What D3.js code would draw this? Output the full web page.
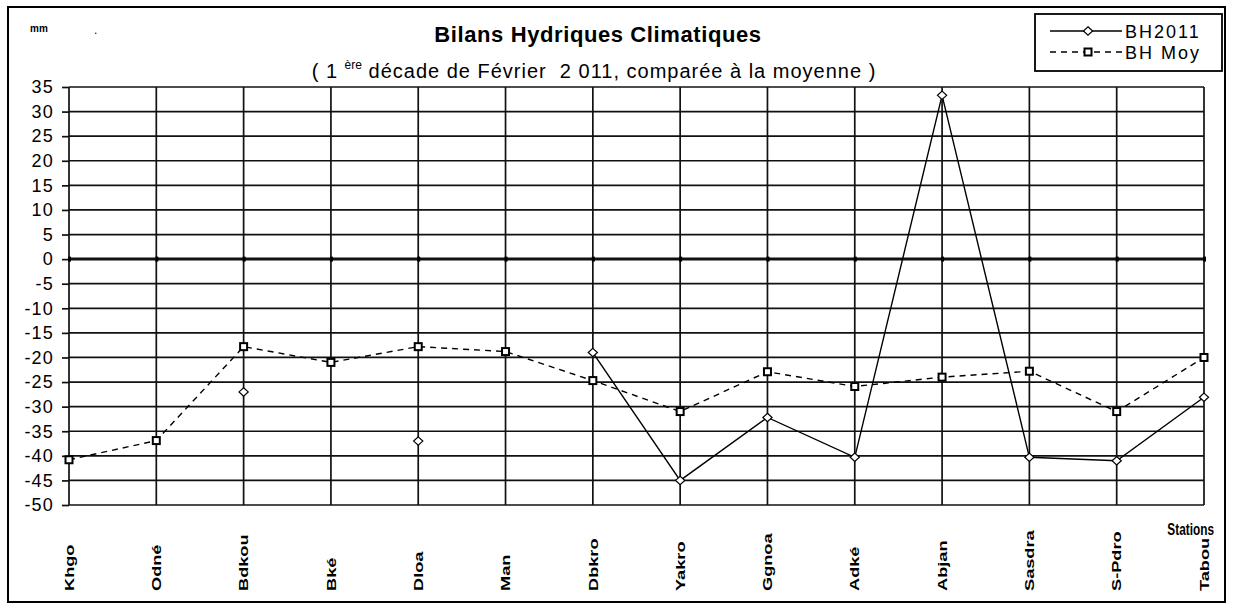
<!DOCTYPE html>
<html>
<head>
<meta charset="utf-8">
<script src="https://cdn.jsdelivr.net/npm/d3@7"></script>
<style>
  body { margin: 0; background: #fff; }
  svg { display: block; font-family: "Liberation Sans", Arial, sans-serif; }
</style>
</head>
<body>
<script>
// ---- data ----
const categories = ["Khgo","Odné","Bdkou","Bké","Dloa","Man","Dbkro","Yakro","Ggnoa","Adké","Abjan","Sasdra","S-Pdro","Tabou"];
const bh2011 = [null, null, -27, null, -37, null, -19, -45, -32.2, -40.3, 33.3, -40.3, -41, -28.1];
const bhMoy  = [-40.8, -36.9, -17.8, -21, -17.8, -18.8, -24.7, -31, -22.9, -25.9, -24, -22.8, -31, -20];
const yTicks = [35, 30, 25, 20, 15, 10, 5, 0, -5, -10, -15, -20, -25, -30, -35, -40, -45, -50];
const seriesNames = ["BH2011", "BH Moy"];

const W = 1233, H = 605;
const svg = d3.select("body").append("svg").attr("width", W).attr("height", H);

// outer frame
svg.append("rect").attr("x", 8).attr("y", 7).attr("width", 1217).attr("height", 595)
  .attr("fill", "none").attr("stroke", "#000").attr("stroke-width", 2);

const x = d3.scalePoint().domain(categories).range([69, 1204]);
const y = d3.scaleLinear().domain([-50, 35]).range([505, 87]);

// grid
const grid = svg.append("g");
grid.selectAll("line.h").data(yTicks).join("line").attr("class", "h")
  .attr("x1", x(categories[0])).attr("x2", x(categories[categories.length - 1]))
  .attr("y1", d => y(d)).attr("y2", d => y(d))
  .attr("stroke", "#111").attr("stroke-width", d => d === 0 ? 3 : 1.7);
grid.selectAll("line.v").data(categories).join("line").attr("class", "v")
  .attr("x1", d => x(d)).attr("x2", d => x(d))
  .attr("y1", y(35)).attr("y2", y(-50))
  .attr("stroke", "#111").attr("stroke-width", 1.7);

// y axis
const yAxis = svg.append("g").attr("transform", `translate(${x(categories[0])},0)`)
  .call(d3.axisLeft(y).tickValues(yTicks).tickSize(7).tickPadding(8).tickFormat(d => String(d)));
yAxis.select(".domain").remove();
yAxis.selectAll(".tick line").attr("stroke", "#111").attr("stroke-width", 1.7);
yAxis.selectAll(".tick text").attr("font-size", 18).attr("letter-spacing", "1.2px")
  .attr("fill", "#000").attr("font-family", "Liberation Sans, Arial, sans-serif");

// category tick marks on zero line
const xAxis = svg.append("g").attr("transform", `translate(0,${y(0) - 2.5})`)
  .call(d3.axisBottom(x).tickSize(5).tickFormat(""));
xAxis.select(".domain").remove();
xAxis.selectAll(".tick line").attr("stroke", "#000").attr("stroke-width", 3);

// category labels (rotated)
svg.append("g").selectAll("text").data(categories).join("text")
  .attr("transform", d => `translate(${x(d)},591) rotate(-90) scale(1.4,1)`)
  .attr("dy", "0.36em")
  .attr("text-anchor", "start")
  .attr("font-size", 13).attr("font-weight", "bold")
  .text(d => d);

// axis title "Stations"
svg.append("text").attr("transform", "translate(1214,535) scale(0.74,1)")
  .attr("text-anchor", "end").attr("font-size", 16).attr("font-weight", "bold")
  .text("Stations");

// "mm" unit label
svg.append("text").attr("x", 30).attr("y", 32).attr("font-size", 10).attr("font-weight", "bold").text("mm");
svg.append("text").attr("x", 94).attr("y", 34).attr("font-size", 12).text(".");

// titles
svg.append("text").attr("x", 598).attr("y", 41.5).attr("text-anchor", "middle")
  .attr("font-size", 22).attr("font-weight", "bold").attr("letter-spacing", "0.6px")
  .text("Bilans Hydriques Climatiques");
const sub = svg.append("text").attr("x", 594).attr("y", 78).attr("text-anchor", "middle")
  .attr("font-size", 20).attr("letter-spacing", "1px").style("white-space", "pre");
sub.append("tspan").text("( 1 ");
sub.append("tspan").attr("dy", -9).attr("font-size", 12).attr("letter-spacing", "0px").text("ère");
sub.append("tspan").attr("dy", 9).text(" décade de Février  2 011, comparée à la moyenne )");

// lines
const lineGen = d3.line().defined(d => d.v !== null).x(d => x(d.c)).y(d => y(d.v));
const moyData = categories.map((c, i) => ({ c, v: bhMoy[i] }));
const bhData = categories.map((c, i) => ({ c, v: bh2011[i] }));

svg.append("path").datum(moyData).attr("d", lineGen)
  .attr("fill", "none").attr("stroke", "#000").attr("stroke-width", 1.4).attr("stroke-dasharray", "6,5");
svg.append("path").datum(bhData).attr("d", lineGen)
  .attr("fill", "none").attr("stroke", "#000").attr("stroke-width", 1.4);

const diamond = "M0,-4.2L4.6,0L0,4.2L-4.6,0Z";
svg.append("g").selectAll("rect").data(moyData).join("rect")
  .attr("x", d => x(d.c) - 3.5).attr("y", d => y(d.v) - 3.5)
  .attr("width", 7).attr("height", 7)
  .attr("fill", "#fff").attr("stroke", "#000").attr("stroke-width", 2);
svg.append("g").selectAll("path").data(bhData.filter(d => d.v !== null)).join("path")
  .attr("transform", d => `translate(${x(d.c)},${y(d.v)})`)
  .attr("d", diamond).attr("fill", "#fff").attr("stroke", "#000").attr("stroke-width", 1.2);

// legend
const lg = svg.append("g");
lg.append("rect").attr("x", 1035).attr("y", 14).attr("width", 187).attr("height", 57)
  .attr("fill", "#fff").attr("stroke", "#000").attr("stroke-width", 1.8);
lg.append("line").attr("x1", 1050).attr("x2", 1122).attr("y1", 31).attr("y2", 31)
  .attr("stroke", "#000").attr("stroke-width", 1.4);
lg.append("path").attr("transform", "translate(1088,31)").attr("d", diamond)
  .attr("fill", "#fff").attr("stroke", "#000").attr("stroke-width", 1.2);
lg.append("line").attr("x1", 1050).attr("x2", 1122).attr("y1", 52).attr("y2", 52)
  .attr("stroke", "#000").attr("stroke-width", 1.4).attr("stroke-dasharray", "6,5");
lg.append("rect").attr("x", 1084.5).attr("y", 48.5).attr("width", 7).attr("height", 7)
  .attr("fill", "#fff").attr("stroke", "#000").attr("stroke-width", 2);
lg.selectAll("text").data(seriesNames).join("text")
  .attr("x", 1125).attr("y", (d, i) => 37.5 + i * 21)
  .attr("font-size", 18).attr("letter-spacing", "2px")
  .text(d => d);
</script>
</body>
</html>
